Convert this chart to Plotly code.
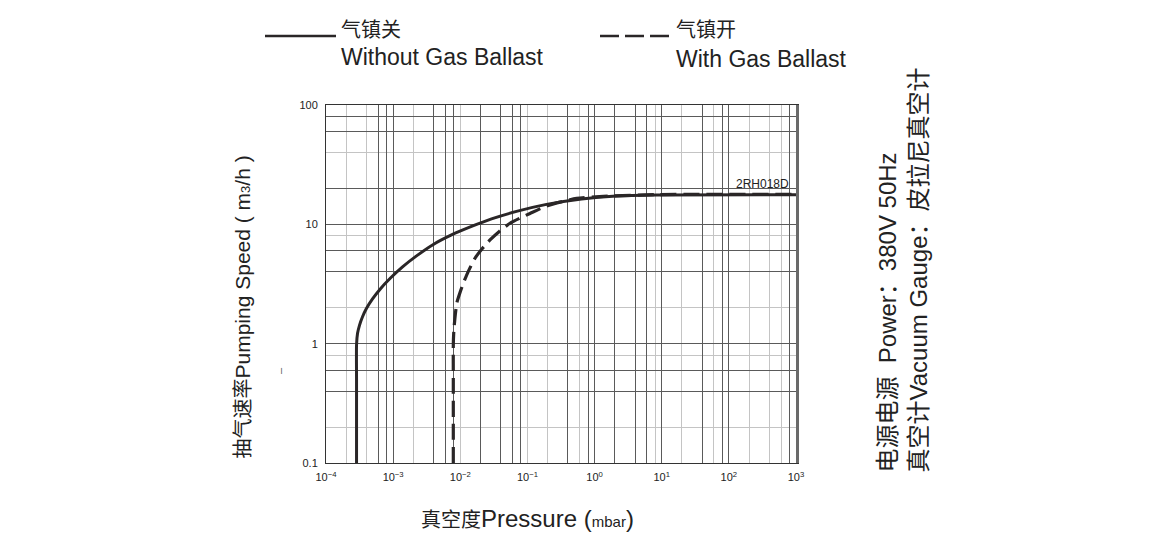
import plotly.graph_objects as go

# ---------------- data ----------------
pressure_without = [2.85e-4, 2.85e-4, 2.85e-4, 2.95e-4, 3.16e-4, 3.5e-4, 4.0e-4, 4.93e-4,
                    6.48e-4, 9.13e-4, 1.38e-3, 2.23e-3, 3.86e-3, 7.4e-3, 1.47e-2, 2.92e-2,
                    6.88e-2, 0.192, 0.639, 2.12, 8.37, 1000]
speed_without = [0.1, 0.5, 0.975, 1.22, 1.43, 1.68, 1.97, 2.37,
                 2.89, 3.55, 4.40, 5.44, 6.72, 8.15, 9.60, 11.10,
                 12.83, 14.69, 16.33, 17.30, 17.64, 17.7]

pressure_with = [7.87e-3, 7.87e-3, 7.87e-3, 8.01e-3, 8.29e-3, 8.88e-3, 9.83e-3, 1.109e-2,
                 1.317e-2, 1.657e-2, 2.128e-2, 2.771e-2, 3.814e-2, 5.50e-2, 0.1092, 0.1937,
                 0.542, 1.35, 8.31, 1000]
speed_with = [0.1, 0.5, 0.975, 1.278, 1.602, 2.194, 2.650, 3.208,
              4.036, 5.198, 6.28, 7.40, 8.72, 10.21, 12.34, 14.27,
              16.49, 17.14, 17.75, 17.8]

x_tick_vals = [1e-4, 1e-3, 1e-2, 1e-1, 1, 10, 100, 1000]
x_tick_text = ["10<sup>−4</sup>", "10<sup>−3</sup>", "10<sup>−2</sup>", "10<sup>−1</sup>",
               "10<sup>0</sup>", "10<sup>1</sup>", "10<sup>2</sup>", "10<sup>3</sup>"]
y_tick_vals = [0.1, 1, 10, 100]
y_tick_text = ["0.1", "1", "10", "100"]

x_grid_light = [2e-4, 4e-4, 2e-3, 1e-2, 1e-1, 2e-1, 6e-1, 8, 20, 60, 200, 400, 600]
x_grid_dark = [6e-4, 8e-4, 1e-3, 4e-3, 6e-3, 8e-3, 2e-2, 4e-2, 6e-2, 8e-2, 4e-1, 8e-1,
               1, 2, 4, 6, 10, 40, 80, 100, 800]
y_grid_light = [0.2, 0.8, 2, 8, 40]
y_grid_dark = [0.4, 0.6, 1, 4, 6, 10, 20, 60, 80]

label_without_cn = "气镇关"
label_without_en = "Without Gas Ballast"
label_with_cn = "气镇开"
label_with_en = "With Gas Ballast"
model_name = "2RH018D"

# ---------------- styling ----------------
FONT = "Liberation Sans, Arial, Noto Sans CJK SC, sans-serif"
INK = "#2a2627"
DARK_GRID = "#5a5a5a"
LIGHT_GRID = "#c4c4c4"

fig = go.Figure()

fig.add_trace(go.Scatter(
    x=pressure_without, y=speed_without, mode="lines",
    line=dict(color=INK, width=3, shape="spline", smoothing=0.6),
    name=label_without_en, hoverinfo="skip"))
fig.add_trace(go.Scatter(
    x=pressure_with, y=speed_with, mode="lines",
    line=dict(color=INK, width=3.2, dash="16px,7px", shape="spline", smoothing=0.6),
    name=label_with_en, hoverinfo="skip"))
# empty trace so the overlay (dark grid) subplot exists
fig.add_trace(go.Scatter(x=[], y=[], xaxis="x2", yaxis="y2", showlegend=False,
                         hoverinfo="skip"))

fig.update_layout(
    width=1160, height=550,
    margin=dict(l=326, r=364, t=105, b=87),
    paper_bgcolor="white", plot_bgcolor="white",
    showlegend=False,
    font=dict(family=FONT, color="#222"),
    xaxis=dict(
        type="log", range=[-4, 3],
        tickmode="array", tickvals=x_tick_vals, ticktext=x_tick_text,
        tickfont=dict(size=11, color="#222"),
        ticks="", showgrid=False,
        minor=dict(tickmode="array", tickvals=x_grid_light, showgrid=True,
                   gridcolor=LIGHT_GRID, gridwidth=1.3, ticks=""),
        showline=True, mirror=True, linecolor="#333", linewidth=1,
        ticklabelstandoff=4, zeroline=False,
    ),
    yaxis=dict(
        type="log", range=[-1, 2],
        tickmode="array", tickvals=y_tick_vals, ticktext=y_tick_text,
        tickfont=dict(size=11, color="#222"),
        ticks="", showgrid=False,
        minor=dict(tickmode="array", tickvals=y_grid_light, showgrid=True,
                   gridcolor=LIGHT_GRID, gridwidth=1.3, ticks=""),
        showline=True, linecolor="#333", linewidth=1,
        ticklabelstandoff=5, zeroline=False,
    ),
    xaxis2=dict(
        type="log", range=[-4, 3], overlaying="x", anchor="y2",
        tickmode="array", tickvals=x_grid_dark, showticklabels=False,
        ticks="", showgrid=True, gridcolor=DARK_GRID, gridwidth=1,
        showline=False, zeroline=False,
    ),
    yaxis2=dict(
        type="log", range=[-1, 2], overlaying="y", anchor="x2", side="right",
        tickmode="array", tickvals=y_grid_dark, showticklabels=False,
        ticks="", showgrid=True, gridcolor=DARK_GRID, gridwidth=1,
        showline=True, linecolor="#6a6a6a", linewidth=2.5, zeroline=False,
    ),
)

# ---------------- legend (drawn by hand, as in the reference) ----------------
def px_x(px):
    return (px - 326) / 470.0

def px_y(py):
    return (463 - py) / 358.0

fig.add_shape(type="line", xref="paper", yref="paper",
              x0=px_x(265), x1=px_x(336), y0=px_y(36), y1=px_y(36),
              line=dict(color=INK, width=2.5))
fig.add_shape(type="line", xref="paper", yref="paper",
              x0=px_x(600), x1=px_x(669), y0=px_y(36), y1=px_y(36),
              line=dict(color=INK, width=2.5, dash="19px,6px"))

ann = []
ann.append(dict(text=label_without_cn, x=px_x(339), y=px_y(30), xanchor="left",
                yanchor="middle", font=dict(size=20)))
ann.append(dict(text=label_without_en, x=px_x(339), y=px_y(57), xanchor="left",
                yanchor="middle", font=dict(size=23)))
ann.append(dict(text=label_with_cn, x=px_x(674), y=px_y(30), xanchor="left",
                yanchor="middle", font=dict(size=20)))
ann.append(dict(text=label_with_en, x=px_x(674), y=px_y(59), xanchor="left",
                yanchor="middle", font=dict(size=23)))

# model label
ann.append(dict(text=model_name, x=px_x(791), y=px_y(184), xanchor="right",
                yanchor="middle", font=dict(size=12, color="#222")))

# x-axis title
ann.append(dict(text="<span style='font-size:20px'>真空度</span>Pressure (<span style='font-size:15px'>mbar</span>)",
                x=px_x(419), y=px_y(518), xanchor="left", yanchor="middle",
                font=dict(size=24)))

# y-axis title
ann.append(dict(text="<span style='font-size:20px'>抽气速率</span>Pumping Speed ( m<span style='font-size:13px'>3</span>/h )",
                x=px_x(242), y=px_y(461), xanchor="center", yanchor="bottom",
                textangle=-90, font=dict(size=21)))

# stray tick mark left of the y title
ann.append(dict(text="–", x=px_x(280), y=px_y(371), xanchor="center", yanchor="middle",
                textangle=-90, font=dict(size=11, color="#555")))

# right-hand notes
ann.append(dict(text="电源电源  Power：380V 50Hz<br>真空计Vacuum Gauge：皮拉尼真空计",
                x=px_x(902), y=px_y(475), xanchor="center", yanchor="bottom",
                textangle=-90, align="left", font=dict(size=24)))

for a in ann:
    a.setdefault("xref", "paper")
    a.setdefault("yref", "paper")
    a["showarrow"] = False
    fig.add_annotation(**a)

fig.write_html("out.html", config={"displayModeBar": False},
               post_script="document.body.style.margin='0px';")
